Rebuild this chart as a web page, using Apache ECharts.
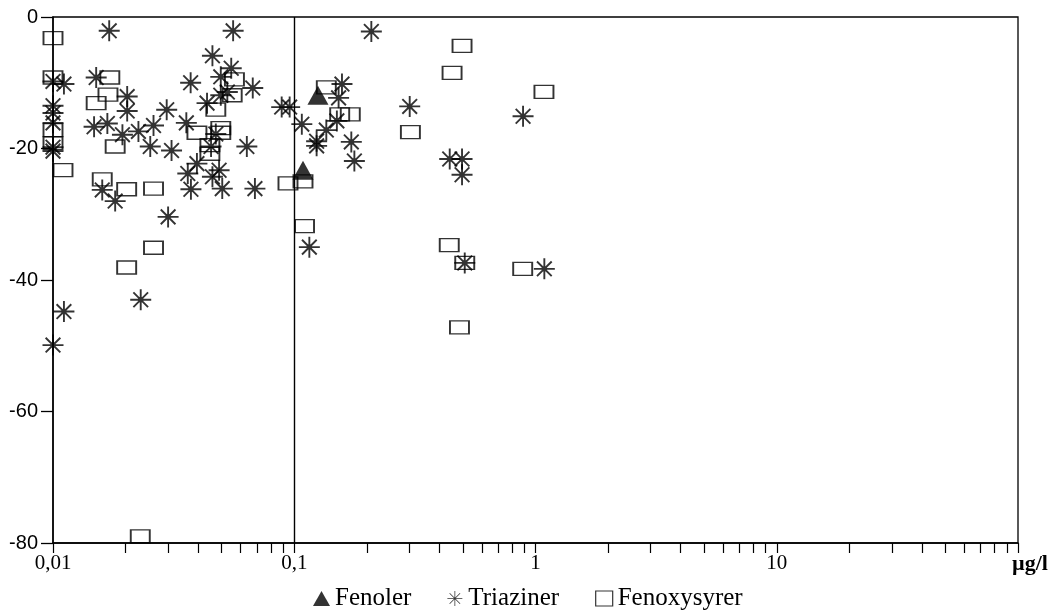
<!DOCTYPE html>
<html>
<head>
<meta charset="utf-8">
<script src="https://cdn.jsdelivr.net/npm/echarts@6/dist/echarts.min.js"></script>
<style>
html,body{margin:0;padding:0;background:#fff;}
#chart{width:1052px;height:613px;}
</style>
</head>
<body>
<div id="chart"></div>
<script>
// ---- data ----
const seriesNames = ['Fenoler', 'Triaziner', 'Fenoxysyrer'];

const fenolerX = [0.1087, 0.1254];
const fenolerY = [-23.3, -11.9];

const triazinerX = [0.01, 0.01, 0.01, 0.01, 0.01, 0.01, 0.01, 0.0111, 0.0111, 0.0151,
  0.0148, 0.0168, 0.0171, 0.0160, 0.0181, 0.0194, 0.0203, 0.0203, 0.0226, 0.0231,
  0.0253, 0.0261, 0.0296, 0.0300, 0.0310, 0.0357, 0.0362, 0.0372, 0.0373, 0.0395,
  0.0435, 0.0452, 0.0458, 0.0458, 0.0473, 0.0488, 0.0496, 0.0496, 0.0503, 0.0528,
  0.0548, 0.0558, 0.0636, 0.0673, 0.0687, 0.0887, 0.0957, 0.1075, 0.1155, 0.1238,
  0.1238, 0.1358, 0.1502, 0.1527, 0.1577, 0.1724, 0.1775, 0.2087, 0.301, 0.441,
  0.496, 0.496, 0.509, 0.888, 1.088];
const triazinerY = [-9.8, -13.5, -14.6, -16.1, -19.8, -20.4, -49.9, -10.2, -44.8, -9.2,
  -16.7, -16.2, -2.1, -26.3, -28.0, -17.9, -12.1, -14.3, -17.4, -43.0,
  -19.7, -16.5, -14.1, -30.4, -20.3, -16.1, -23.8, -10.0, -26.2, -22.3,
  -13.1, -19.7, -5.9, -24.3, -17.8, -23.3, -9.1, -11.9, -26.1, -11.4,
  -7.8, -2.1, -19.7, -10.8, -26.1, -13.7, -13.7, -16.3, -35.0, -18.9,
  -19.6, -17.2, -15.8, -12.3, -10.2, -19.0, -21.9, -2.2, -13.6, -21.6,
  -21.6, -24.0, -37.4, -15.1, -38.3];

const fenoxyX = [0.01, 0.01, 0.01, 0.01, 0.0110, 0.0151, 0.0160, 0.0172, 0.0169, 0.0181,
  0.0202, 0.0202, 0.0230, 0.0261, 0.0261, 0.0395, 0.0447, 0.0447, 0.0473, 0.0496,
  0.0496, 0.0553, 0.0565, 0.0942, 0.1087, 0.1103, 0.1358, 0.1543, 0.1707, 0.303,
  0.439, 0.451, 0.484, 0.496, 0.509, 0.885, 1.084];
const fenoxyY = [-3.2, -9.2, -17.2, -19.2, -23.3, -13.1, -24.7, -9.2, -11.8, -19.7,
  -26.2, -38.1, -79.0, -26.1, -35.1, -17.6, -19.5, -20.8, -14.1, -16.9,
  -17.6, -11.9, -9.5, -25.3, -25.0, -31.8, -10.7, -14.8, -14.8, -17.5,
  -34.7, -8.5, -47.2, -4.4, -37.4, -38.3, -11.4];

const xTickLabels = {0.01: '0,01', 0.1: '0,1', 1: '1', 10: '10', 100: 'µg/l'};
const xTickValues = [0.01, 0.02, 0.03, 0.04, 0.05, 0.06, 0.07, 0.08, 0.09,
  0.1, 0.2, 0.3, 0.4, 0.5, 0.6, 0.7, 0.8, 0.9,
  1, 2, 3, 4, 5, 6, 7, 8, 9,
  10, 20, 30, 40, 50, 60, 70, 80, 90, 100];
const referenceX = 0.1;
const yMin = -80, yMax = 0, yStep = 20;

// ---- chart ----
const zip = (xs, ys) => xs.map((x, i) => [x, ys[i]]);
const starPath = 'path://M9.1,0L10.9,0L10.9,20L9.1,20Z' +
  'M0,9.1L20,9.1L20,10.9L0,10.9Z' +
  'M3.64,2.36L17.64,16.36L16.36,17.64L2.36,3.64Z' +
  'M17.64,3.64L3.64,17.64L2.36,16.36L16.36,2.36Z' +
  'M13,10L12.1,12.1L10,13L7.9,12.1L7,10L7.9,7.9L10,7L12.1,7.9Z';
const starIcon = 'path://M9.5,0L10.5,0L10.5,20L9.5,20Z' +
  'M0,9.5L20,9.5L20,10.5L0,10.5Z' +
  'M3.35,2.65L17.35,16.65L16.65,17.35L2.65,3.35Z' +
  'M17.35,3.35L3.35,17.35L2.65,16.65L16.65,2.65Z';

const chart = echarts.init(document.getElementById('chart'), null, {renderer: 'canvas'});
chart.setOption({
  animation: false,
  backgroundColor: '#fff',
  grid: {left: 53, right: 34, top: 17, bottom: 70, show: true, borderColor: '#000', borderWidth: 1.3, backgroundColor: 'transparent'},
  xAxis: {
    type: 'log', logBase: 10, min: 0.01, max: 100,
    axisLine: {show: true, onZero: false, lineStyle: {color: '#000', width: 1.5}},
    axisTick: {show: true, inside: false, length: 10, customValues: xTickValues, lineStyle: {color: '#000', width: 1.2}},
    axisLabel: {
      show: true, margin: 10, color: '#000', fontFamily: 'Liberation Serif', fontSize: 21,
      customValues: [0.01, 0.1, 1, 10, 100],
      formatter: function (v) {
        const key = Math.round(Math.log10(v));
        const lab = xTickLabels[Math.pow(10, key)] || xTickLabels[v];
        return key === 2 ? '{u|' + lab + '}' : lab;
      },
      rich: {u: {fontFamily: 'Liberation Serif', fontSize: 22, fontWeight: 'bold', color: '#000', padding: [0, 0, 0, 24]}}
    },
    splitLine: {show: false}, minorTick: {show: false}
  },
  yAxis: {
    type: 'value', min: yMin, max: yMax, interval: yStep,
    axisLine: {show: true, onZero: false, lineStyle: {color: '#000', width: 1.5}},
    axisTick: {show: true, inside: false, length: 12, lineStyle: {color: '#000', width: 1.3}},
    axisLabel: {margin: 15, color: '#000', fontFamily: 'Liberation Sans', fontSize: 20},
    splitLine: {show: false}
  },
  legend: {
    top: 581, left: 308, itemGap: 36, itemWidth: 17, itemHeight: 15,
    textStyle: {fontFamily: 'Liberation Serif', fontSize: 25, color: '#000'},
    data: [
      {name: 'Fenoler', icon: 'triangle'},
      {name: 'Triaziner', icon: starIcon},
      {name: 'Fenoxysyrer', icon: 'rect', itemStyle: {borderWidth: 1.2}}
    ]
  },
  series: [
    {
      name: 'Fenoxysyrer', type: 'scatter', data: zip(fenoxyX, fenoxyY),
      symbol: 'rect', symbolSize: [19, 13],
      itemStyle: {color: 'rgba(255,255,255,0)', borderColor: '#000', borderWidth: 1.6},
      markLine: {
        silent: true, symbol: 'none', label: {show: false},
        lineStyle: {color: '#000', width: 1.4, type: 'solid'},
        data: [{xAxis: referenceX}]
      },
      z: 2
    },
    {
      name: 'Triaziner', type: 'scatter', data: zip(triazinerX, triazinerY),
      symbol: starPath, symbolSize: 21,
      itemStyle: {color: '#000'}, z: 3
    },
    {
      name: 'Fenoler', type: 'scatter', data: zip(fenolerX, fenolerY),
      symbol: 'triangle', symbolSize: [21, 19],
      itemStyle: {color: '#000'}, z: 4
    }
  ]
});
</script>
</body>
</html>
